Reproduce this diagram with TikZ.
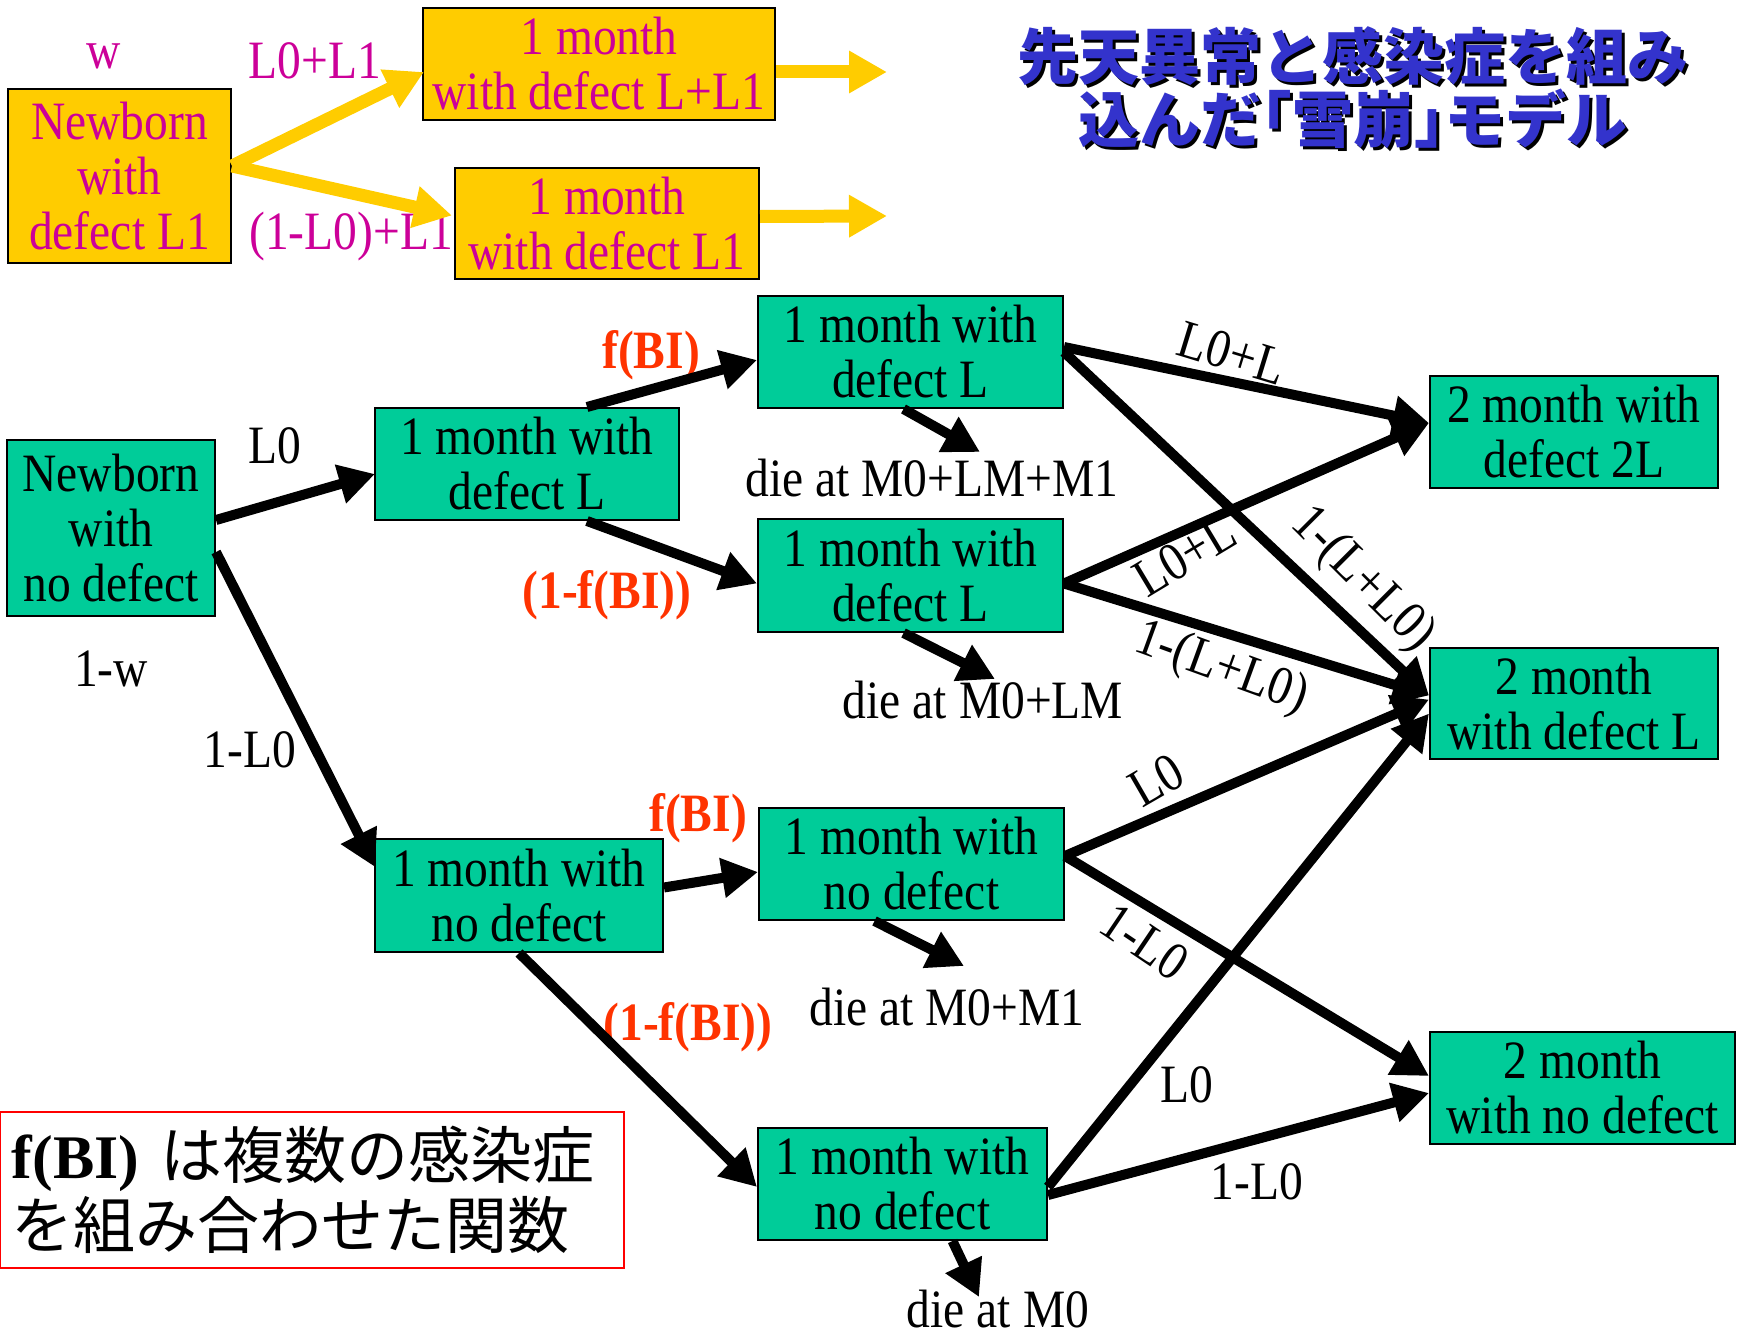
\documentclass[tikz,border=0pt]{standalone}
\usepackage{fontspec}
\setmainfont{Liberation Serif}[FakeStretch=0.88]
\newfontfamily\rfser{Liberation Serif}
\newfontfamily\cjk{Noto Sans CJK JP}
\usetikzlibrary{arrows.meta,calc}
\definecolor{gcol}{HTML}{00CC99}
\definecolor{ycol}{HTML}{FFCC00}
\definecolor{mcol}{HTML}{CC0099}
\definecolor{rcol}{HTML}{FF3300}
\definecolor{tcol}{HTML}{3333CC}
\tikzset{
  gbox/.style={draw=black, line width=2pt, fill=gcol, inner sep=0pt, align=center},
  ybox/.style={draw=black, line width=2pt, fill=ycol, inner sep=0pt, align=center, text=mcol},
  blk/.style={line width=10pt, -{Triangle[length=36pt,width=38pt]}},
  yel/.style={draw=ycol, line width=13pt, -{Triangle[length=38pt,width=40pt]}},
  lbl/.style={inner sep=0pt},
  redlbl/.style={inner sep=0pt, text=rcol, font=\fontsize{54}{55}\selectfont\bfseries},
  ttl/.style={font=\cjk\bfseries\fontsize{61}{63}\selectfont, align=center},
}
\begin{document}
\begin{tikzpicture}[x=1pt, y=-1pt, font=\fontsize{54}{55}\selectfont]
\useasboundingbox (0,0) rectangle (1748,1330);

% ---------- title ----------
\node[ttl, text=black] (titleshadow) at (1356,91) {先天異常と感染症を組み\\込んだ｢雪崩｣モデル};
\node[ttl, text=tcol] (title) at (1353,88) {先天異常と感染症を組み\\込んだ｢雪崩｣モデル};

% ---------- yellow part ----------
\node[ybox, minimum width=223, minimum height=174] (YA) at (119.5,176) {Newborn\\with\\defect L1};
\node[ybox, minimum width=352, minimum height=111] (YB) at (599,64) {1 month\\with defect L+L1};
\node[ybox, minimum width=304, minimum height=111] (YC) at (607,223.5) {1 month\\with defect L1};
\node[lbl, text=mcol] (lw) at (104,56) {w};
\node[lbl, text=mcol] (lyb) at (315,61) {L0+L1};
\node[lbl, text=mcol] (lyc) at (351,237) {(1-L0)+L1};
\coordinate (ybend) at (887,72);
\coordinate (ycend) at (887,216);
\draw[yel] ($(YA.east)+(0,-10)$) -- ($(YB.west)+(2,8)$);
\draw[yel] ($(YA.east)+(0,-10)$) -- ($(YC.west)+(-2,-8)$);
\draw[yel] ($(YB.east)+(0,8)$) -- (ybend);
\draw[yel] ($(YC.east)+(0,-7)$) -- (ycend);

% ---------- green boxes ----------
\node[gbox, minimum width=208, minimum height=176] (N0) at (111,528) {Newborn\\with\\no defect};
\node[gbox, minimum width=304, minimum height=112] (M1) at (527,464) {1 month with\\defect L};
\node[gbox, minimum width=288, minimum height=113] (M2) at (519,895.5) {1 month with\\no defect};
\node[gbox, minimum width=305, minimum height=112] (P1) at (910.5,352) {1 month with\\defect L};
\node[gbox, minimum width=305, minimum height=113] (P2) at (910.5,575.5) {1 month with\\defect L};
\node[gbox, minimum width=305, minimum height=112] (P3) at (911.5,864) {1 month with\\no defect};
\node[gbox, minimum width=289, minimum height=112] (P4) at (902.5,1184) {1 month with\\no defect};
\node[gbox, minimum width=288, minimum height=112] (Q1) at (1574,432) {2 month with\\defect 2L};
\node[gbox, minimum width=288, minimum height=111] (Q2) at (1574,703.5) {2 month\\with defect L};
\node[gbox, minimum width=305, minimum height=112] (Q3) at (1582.5,1088) {2 month\\with no defect};

% ---------- labels ----------
\node[lbl] (l1w) at (111,669) {1-w};
\node[lbl] (lL0a) at (275,446) {L0};
\node[lbl] (l1L0a) at (250,750) {1-L0};
\node[redlbl] (fb1) at (651,355) {f(BI)};
\node[redlbl] (nfb1) at (607,595) {(1-f(BI))};
\node[redlbl] (fb2) at (698,818) {f(BI)};
\node[redlbl] (nfb2) at (688,1027) {(1-f(BI))};
\node[lbl] (die1) at (932,478) {die at M0+LM+M1};
\node[lbl] (die2) at (983,700) {die at M0+LM};
\node[lbl] (die3) at (947,1007) {die at M0+M1};
\node[lbl] (die4) at (998,1309) {die at M0};
\node[lbl, rotate=-17] (e1) at (1232,353) {L0+L};
\node[lbl, rotate=31] (e2) at (1185,555) {L0+L};
\node[lbl, rotate=-45] (e3) at (1362,580) {1-(L+L0)};
\node[lbl, rotate=-20] (e4) at (1221,669) {1-(L+L0)};
\node[lbl, rotate=30] (e5) at (1156,780) {L0};
\node[lbl, rotate=-34] (e6) at (1145,942) {1-L0};
\node[lbl] (e7) at (1187,1085) {L0};
\node[lbl] (e8) at (1257,1182) {1-L0};

% ---------- free ends ----------
\coordinate (d1) at (980,452);
\coordinate (d2) at (995,679);
\coordinate (d3) at (964,966);
\coordinate (d4) at (979,1297);

% ---------- black connectors ----------
\draw[blk] ($(N0.east)+(0,-8)$) -- ($(M1.west)+(1,10)$);
\draw[blk] ($(N0.east)+(0,24)$) -- ($(M2.north west)+(1,29)$);
\draw[blk] ($(M1.north)+(60,0)$) -- ($(P1.west)+(0,8)$);
\draw[blk] ($(M1.south)+(60,0)$) -- ($(P2.west)+(0,8)$);
\draw[blk] ($(P1.south)+(-7,0)$) -- (d1);
\draw[blk] ($(P2.south)+(-7,0)$) -- (d2);
\draw[blk] ($(P1.east)+(0,-5)$) -- ($(Q1.west)+(0,-9)$);
\draw[blk] ($(P1.east)+(0,0)$) -- ($(Q2.west)+(0,-8)$);
\draw[blk] ($(P2.east)+(0,8)$) -- ($(Q1.west)+(0,-9)$);
\draw[blk] ($(P2.east)+(0,8)$) -- ($(Q2.west)+(0,-8)$);
\draw[blk] ($(M2.east)+(0,-8)$) -- ($(P3.west)+(0,8)$);
\draw[blk] (M2.south) -- ($(P4.west)+(0,3)$);
\draw[blk] ($(P3.south)+(-37,0)$) -- (d3);
\draw[blk] ($(P3.east)+(0,-8)$) -- ($(Q2.west)+(0,-4)$);
\draw[blk] ($(P3.east)+(0,-8)$) -- ($(Q3.west)+(0,-12)$);
\draw[blk] ($(P4.east)+(0,3)$) -- ($(Q2.west)+(0,10)$);
\draw[blk] ($(P4.east)+(0,11)$) -- ($(Q3.west)+(0,5)$);
\draw[blk] ($(P4.south)+(50,0)$) -- (d4);

% ---------- red note ----------
\node[draw=red, line width=2pt, minimum width=624, minimum height=156, text width=600, inner xsep=12pt, inner ysep=0pt, align=left, font=\fontsize{62}{70}\selectfont] (RB) at (312,1190) {{\rfser\bfseries f(BI)} {\cjk は複数の感染症}\\{\cjk を組み合わせた関数}};
\end{tikzpicture}
\end{document}
